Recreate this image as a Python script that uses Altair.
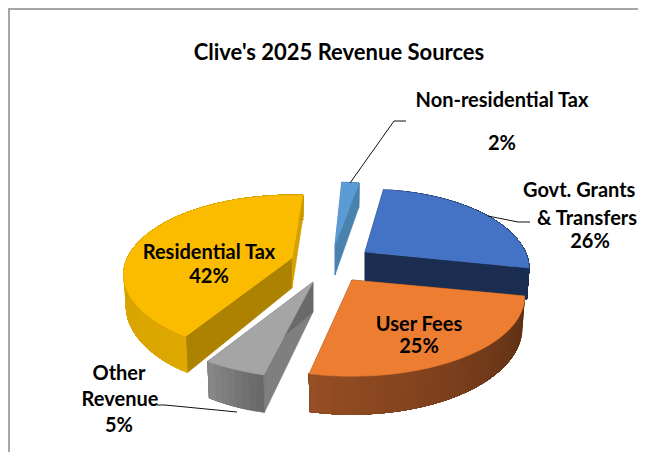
import math
import altair as alt

# ---- data ----
names = ["Govt. Grants & Transfers", "User Fees", "Other Revenue", "Residential Tax", "Non-residential Tax"]
shares = [26, 25, 5, 42, 2]
start_angle = 8.0
start_nudge = [0, 0, 2, 2.5, 2]
end_nudge = [0, 0, 1.5, 3.7, 2]
radius_mult = [0.96, 1.01, 1.0, 0.985, 1.0]
apex_x = [365, 352, 313, 292, 335]
apex_y = [252, 280, 282, 258, 245]
top_fill = ["#4472C4", "#ED7D31", "#A5A5A5", "#FBBC00", "#5B9BD5"]
end_wall = ["#1B2E52", "#5F3014", "#6A6A6A", "#D6A000", "#4A82AE"]
start_wall = ["#1B2E52", "#5F3014", "#7F7F7F", "#AD8200", "#4A82AE"]
outer_left = [(27, 46, 82), (150, 78, 36), (135, 135, 135), (200, 155, 0), (74, 130, 174)]
outer_right = [(27, 46, 82), (90, 46, 20), (105, 105, 105), (222, 168, 0), (74, 130, 174)]
paint_order = [4, 0, 3, 2, 1]

RX, RY, PERSP, DEPTH = 167, 76, 0.21, 30

title_text = ["Clive's 2025 Revenue Sources"]
label_text = ["Non-residential Tax", "2%", "Govt. Grants", "& Transfers", "26%",
              "Residential Tax", "42%", "User Fees", "25%", "Other", "Revenue", "5%"]
label_x = [502, 502, 523, 537, 590, 209, 209, 419, 419, 119, 120, 119]
label_y = [101, 144, 191, 219, 242, 253, 277, 325, 347, 374, 400, 426]
label_align = ["center", "center", "left", "left", "center", "center", "center",
               "center", "center", "center", "center", "center"]
leader_id = [0, 0, 0, 1, 1, 1, 2, 2, 2]
leader_x = [350, 394, 406, 488, 518, 530, 157, 165, 237]
leader_y = [183, 121, 121, 216, 222, 222, 405, 405, 412]
border_x = [9, 9, 638]
border_y = [452, 9, 9]

# ---- slice geometry from the shares ----
def top_pt(i, a):
    r = math.radians(a)
    X, Y = math.sin(r), -math.cos(r)
    s = 1 / (1 - PERSP * Y)
    m = radius_mult[i]
    return apex_x[i] + RX * m * X * s, apex_y[i] + RY * Y * s, s

def bot_pt(i, a):
    x, y, s = top_pt(i, a)
    return apex_x[i] + (x - apex_x[i]) * 0.985, y + DEPTH * s

features = []
def add(poly, col):
    ring = [list(p) for p in poly] + [list(poly[0])]
    features.append({"type": "Feature", "geometry": {"type": "Polygon", "coordinates": [ring]},
                     "properties": {"fill": col}})

bounds = []
a = start_angle
for k, sh in enumerate(shares):
    bounds.append((a + start_nudge[k], a + sh * 3.6 + end_nudge[k]))
    a += sh * 3.6

for i in paint_order:
    a0, a1 = bounds[i]
    ap = (apex_x[i], apex_y[i])
    apb = (apex_x[i], apex_y[i] + DEPTH)
    n = max(4, int((a1 - a0) / 2))
    ang = [a0 + (a1 - a0) * k / n for k in range(n + 1)]
    add([ap, top_pt(i, a0)[:2], bot_pt(i, a0), apb], start_wall[i])
    add([ap, top_pt(i, a1)[:2], bot_pt(i, a1), apb], end_wall[i])
    for k in range(n):
        t = k / max(1, n - 1)
        # angles increase clockwise, so on the front they run right to left;
        # each band runs to the slice's end so later bands overlap it with no seam
        c = [int(outer_right[i][j] * (1 - t) + outer_left[i][j] * t) for j in range(3)]
        add([top_pt(i, x)[:2] for x in ang[k:]] + [bot_pt(i, x) for x in reversed(ang[k:])],
            "rgb(%d,%d,%d)" % tuple(c))
    add([ap] + [top_pt(i, x)[:2] for x in ang], top_fill[i])

W, H = 630, 444
sx = alt.Scale(domain=[8, 8 + W], range=[0, W])
sy = alt.Scale(domain=[8, 8 + H], range=[0, H])

pie = alt.Chart(alt.Data(values=features)).mark_geoshape(strokeWidth=0.6).encode(
    fill=alt.Color("properties.fill:N", scale=None),
    stroke=alt.Color("properties.fill:N", scale=None),
).project(type="identity", scale=1, translate=[-8, -8])

border = alt.Chart(alt.Data(values=[{"x": x, "y": y, "o": k} for k, (x, y) in enumerate(zip(border_x, border_y))])
    ).mark_line(color="#A6A6A6", strokeWidth=2).encode(
    x=alt.X("x:Q", scale=sx, axis=None), y=alt.Y("y:Q", scale=sy, axis=None), order="o:O")

leaders = alt.Chart(alt.Data(values=[{"x": x, "y": y, "g": g, "o": k} for k, (x, y, g) in enumerate(zip(leader_x, leader_y, leader_id))])
    ).mark_line(color="#111111", strokeWidth=1).encode(
    x=alt.X("x:Q", scale=sx, axis=None), y=alt.Y("y:Q", scale=sy, axis=None), detail="g:N", order="o:O")

rows = [{"x": x, "y": y, "t": t, "a": a} for x, y, t, a in zip(label_x, label_y, label_text, label_align)]
labels = alt.Chart(alt.Data(values=[r for r in rows if r["a"] == "center"])).mark_text(
    font="Lato", fontWeight="bold", fontSize=20, color="#000000", align="center").encode(
    x=alt.X("x:Q", scale=sx, axis=None), y=alt.Y("y:Q", scale=sy, axis=None), text="t:N")
labels_left = alt.Chart(alt.Data(values=[r for r in rows if r["a"] == "left"])).mark_text(
    font="Lato", fontWeight="bold", fontSize=20, color="#000000", align="left").encode(
    x=alt.X("x:Q", scale=sx, axis=None), y=alt.Y("y:Q", scale=sy, axis=None), text="t:N")
title = alt.Chart(alt.Data(values=[{"x": 339, "y": 53, "t": title_text[0]}])).mark_text(
    font="Lato", fontWeight="bold", fontSize=22, color="#000000", align="center").encode(
    x=alt.X("x:Q", scale=sx, axis=None), y=alt.Y("y:Q", scale=sy, axis=None), text="t:N")

chart = alt.layer(pie, border, leaders, labels, labels_left, title).properties(
    width=W, height=H, padding=0, background="white",
    autosize=alt.AutoSizeParams(type="none")
).configure_view(stroke=None)
chart.save("out.html", embed_options={"renderer": "svg", "actions": False})
